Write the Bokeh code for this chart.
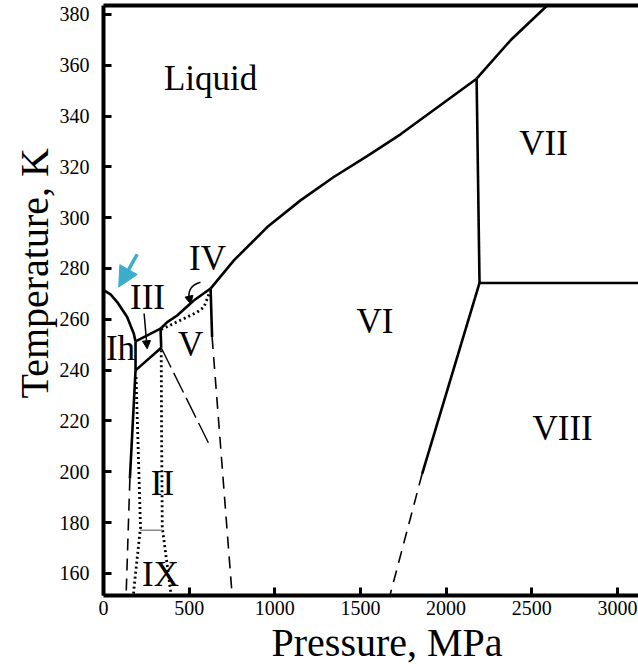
from bokeh.plotting import figure
from bokeh.models import Range1d, LinearAxis, FixedTicker, Arrow, NormalHead, Title, ColumnDataSource
from bokeh.embed import file_html
from bokeh.resources import INLINE

# ---------------- data (Pressure MPa, Temperature K) ----------------
x_ticks = [0, 500, 1000, 1500, 2000, 2500, 3000]
y_ticks = [160, 180, 200, 220, 240, 260, 280, 300, 320, 340, 360, 380]

# solid phase boundaries
ih_liq_P = [0, 41, 80, 138, 177, 187]
ih_liq_T = [271.5, 269.8, 266.8, 260.9, 254.3, 251.3]
ih_iii_P = [187, 187]
ih_iii_T = [251.3, 239.9]
ih_ii_P = [187, 154]
ih_ii_T = [239.9, 197.3]
iii_ii_P = [187, 337]
iii_ii_T = [239.9, 248.8]
liq_iii_P = [187, 333]
liq_iii_T = [251.3, 256.3]
iii_v_P = [333, 337]
iii_v_T = [256.3, 248.8]
liq_v_P = [333, 372, 430, 527, 625]
liq_v_T = [256.3, 258.9, 261.5, 267.4, 272.1]
v_vi_P = [625, 634]
v_vi_T = [272.1, 253.0]
liq_vi_P = [625, 761, 956, 1150, 1344, 1539, 1734, 2178]
liq_vi_T = [272.1, 283.2, 296.3, 306.8, 316.0, 324.2, 332.8, 354.7]
liq_vii_P = [2178, 2376, 2590]
liq_vii_T = [354.7, 369.8, 383.5]
vi_vii_P = [2178, 2195]
vi_vii_T = [354.7, 274.3]
vii_viii_P = [2195, 3123]
vii_viii_T = [274.3, 274.3]
vi_viii_P = [2195, 1860]
vi_viii_T = [274.3, 199.2]

# dashed (extrapolated) boundaries
ih_ii_ext_P = [154, 132]
ih_ii_ext_T = [197.3, 151.3]
v_vi_ext_P = [634, 751]
v_vi_ext_T = [253.0, 151.3]
ii_v_ext_P = [337, 625]
ii_v_ext_T = [248.8, 209.7]
vi_viii_ext_P = [1860, 1672]
vi_viii_ext_T = [199.2, 151.3]

# dotted (metastable) boundaries
ii_left_P = [190, 216, 177, 175]
ii_left_T = [237.3, 178.2, 153.6, 151.3]
ii_right_P = [337, 339, 343, 391, 393]
ii_right_T = [247.8, 216.3, 178.2, 153.3, 151.3]
iv_v_P = [337, 430, 547, 586, 609, 625]
iv_v_T = [256.0, 259.0, 262.8, 264.8, 268.7, 272.1]

# II / IX transition (grey)
ii_ix_P = [214, 343]
ii_ix_T = [177.0, 177.0]

# phase labels
phase_names = ["Liquid", "VII", "VI", "VIII", "V", "IV", "III", "Ih", "II", "IX"]
phase_P = [625, 2569, 1585, 2680, 508, 607, 257, 99, 344, 333]
phase_T = [354.8, 329.2, 259.0, 217.0, 250.1, 284.0, 268.6, 248.6, 195.4, 159.6]

# axis titles
x_title = "Pressure, MPa"
y_title = "Temperature, K"

# arrows (start P, start T, end P, end T)
blue_arrow = [197, 285.6, 89, 272.7]
iii_arrow = [237, 262.3, 255, 248.4]
iv_curve = [566, 274.6, 500, 273.5, 492, 270.0, 503, 267.8]
iv_head = [503, 267.8, 509, 266.0]

SERIF = "Liberation Serif"
W, H = 638, 664

p = figure(width=W, height=H,
           x_range=Range1d(0, 3123), y_range=Range1d(151.3, 383.5),
           output_backend="svg", toolbar_location=None,
           min_border_left=103, min_border_right=0, min_border_top=5, min_border_bottom=69)
p.grid.visible = False
p.outline_line_color = None
p.background_fill_color = "white"
p.border_fill_color = "white"

for ax, ticks in ((p.xaxis[0], x_ticks), (p.yaxis[0], y_ticks)):
    ax.ticker = FixedTicker(ticks=ticks)
    ax.axis_line_width = 4
    ax.axis_line_color = "black"
    ax.major_tick_in = 8
    ax.major_tick_out = 0
    ax.major_tick_line_width = 3
    ax.minor_tick_line_color = None
    ax.major_label_text_font = SERIF
    ax.major_label_text_font_size = "20px"
    ax.major_label_text_color = "black"

p.xaxis[0].major_label_standoff = 5
p.yaxis[0].major_label_standoff = 14

top = LinearAxis(ticker=FixedTicker(ticks=[]), axis_line_width=4, axis_line_color="black",
                 major_tick_line_color=None, minor_tick_line_color=None,
                 major_label_text_font_size="0px", major_label_standoff=0)
p.add_layout(top, "above")

# axis titles as side-panel titles (left-aligned with an offset along the axis)
p.add_layout(Title(text=x_title, align="left", offset=168, standoff=0,
                   text_font=SERIF, text_font_size="40px", text_font_style="normal",
                   text_color="black"), "below")
p.add_layout(Title(text=y_title, align="left", offset=197, standoff=0,
                   text_font=SERIF, text_font_size="40px", text_font_style="normal",
                   text_color="black"), "left")

solid = [(ih_liq_P, ih_liq_T), (ih_iii_P, ih_iii_T), (ih_ii_P, ih_ii_T), (iii_ii_P, iii_ii_T),
         (liq_iii_P, liq_iii_T), (iii_v_P, iii_v_T), (liq_v_P, liq_v_T), (v_vi_P, v_vi_T),
         (liq_vi_P, liq_vi_T), (liq_vii_P, liq_vii_T), (vi_vii_P, vi_vii_T),
         (vii_viii_P, vii_viii_T), (vi_viii_P, vi_viii_T)]
for xs, ys in solid:
    p.line(xs, ys, line_color="black", line_width=2.6, line_join="round")

for xs, ys in [(ih_ii_ext_P, ih_ii_ext_T), (v_vi_ext_P, v_vi_ext_T), (vi_viii_ext_P, vi_viii_ext_T)]:
    p.line(xs, ys, line_color="black", line_width=1.6, line_dash="12 8")
p.line(ii_v_ext_P, ii_v_ext_T, line_color="black", line_width=1.4, line_dash="22 6")

for xs, ys in [(ii_left_P, ii_left_T), (ii_right_P, ii_right_T), (iv_v_P, iv_v_T)]:
    p.line(xs, ys, line_color="black", line_width=2.8, line_dash="2 3")

p.line(ii_ix_P, ii_ix_T, line_color="#8a8a8a", line_width=1.5)

src = ColumnDataSource(dict(x=phase_P, y=phase_T, t=phase_names))
p.text(x="x", y="y", text="t", source=src, text_font=SERIF, text_font_size="35px",
       text_align="center", text_baseline="middle", text_color="black")

b = blue_arrow
p.add_layout(Arrow(x_start=b[0], y_start=b[1], x_end=b[2], y_end=b[3], line_color="#3aaccc",
                   line_width=3.5, end=NormalHead(size=20, fill_color="#3aaccc", line_color="#3aaccc")))
a = iii_arrow
p.add_layout(Arrow(x_start=a[0], y_start=a[1], x_end=a[2], y_end=a[3], line_color="black",
                   line_width=1.5, end=NormalHead(size=8, fill_color="black", line_color="black")))
c = iv_curve
p.bezier(x0=[c[0]], y0=[c[1]], cx0=[c[2]], cy0=[c[3]], cx1=[c[4]], cy1=[c[5]], x1=[c[6]], y1=[c[7]],
         line_color="black", line_width=1.5)
h = iv_head
p.add_layout(Arrow(x_start=h[0], y_start=h[1], x_end=h[2], y_end=h[3], line_color="black",
                   line_width=1.5, end=NormalHead(size=8, fill_color="black", line_color="black")))

open("out.html", "w").write(file_html(p, INLINE))
